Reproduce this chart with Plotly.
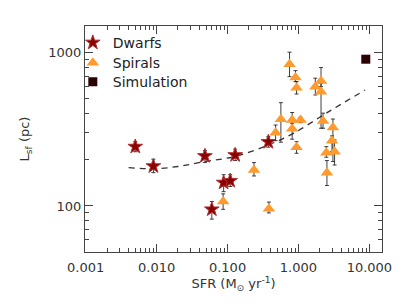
import plotly.graph_objects as go

# ---- data ----
sfr_dwarf = [0.005, 0.009, 0.048, 0.128, 0.376, 0.060, 0.088, 0.109]
L_dwarf = [244, 182, 212, 215, 262, 95, 142, 146]
L_dwarf_up = [19, 20, 18, 20, 22, 12, 18, 14]
L_dwarf_dn = [18, 17, 20, 17, 20, 13, 18, 12]

sfr_spiral = [0.748, 0.908, 0.94, 1.73, 2.08, 2.08, 2.22, 0.565, 0.476, 0.815, 0.815,
              1.07, 0.94, 3.06, 2.97, 2.47, 3.23, 2.52, 0.236, 0.0867, 0.383]
L_spiral = [844, 690, 593, 602, 656, 558, 359, 369, 301, 365, 319,
            365, 242, 325, 267, 223, 226, 165, 172, 107, 96]
L_spiral_up = [167, 76, 56, 82, 146, 76, 45, 104, 37, 43, 28,
               15, 21, 45, 20, 21, 44, 33, 20, 13, 10]
L_spiral_dn = [144, 41, 54, 71, 54, 236, 37, 108, 34, 51, 46,
               15, 21, 130, 40, 15, 41, 29, 15, 12, 6]

sfr_sim = [8.9]
L_sim = [910]

sfr_fit = [0.00403, 0.00887, 0.0199, 0.047, 0.124, 0.383, 0.859, 2.53, 8.7]
L_fit = [178, 175, 181, 195, 210, 251, 299, 407, 573]

x_tickvals = [0.001, 0.01, 0.1, 1, 10]
x_ticktext = ["0.001", "0.010", "0.100", "1.000", "10.000"]
y_tickvals = [100, 1000]
y_ticktext = ["100", "1000"]

FONT = "DejaVu Sans"
AXC = "#444444"

fig = go.Figure()

fig.add_trace(go.Scatter(
    x=sfr_fit, y=L_fit, mode="lines", line=dict(color="#333333", width=1.3, dash="6px,5px",
                                                  shape="spline"),
    showlegend=False, hoverinfo="skip"))

errc = "rgba(30,30,30,0.85)"

fig.add_trace(go.Scatter(
    x=sfr_dwarf, y=L_dwarf, mode="markers", name="Dwarfs", legend="legend",
    marker=dict(symbol="star", size=11, color="#8B0000", line=dict(color="#B03030", width=1)),
    error_y=dict(type="data", symmetric=False, array=L_dwarf_up, arrayminus=L_dwarf_dn,
                 color=errc, thickness=1, width=2)))

fig.add_trace(go.Scatter(
    x=sfr_spiral, y=L_spiral, mode="markers", name="Spirals", legend="legend2",
    marker=dict(symbol="triangle-up", size=11, color="#FF9A2E", line=dict(width=0)),
    error_y=dict(type="data", symmetric=False, array=L_spiral_up, arrayminus=L_spiral_dn,
                 color=errc, thickness=1, width=2)))

fig.add_trace(go.Scatter(
    x=sfr_sim, y=L_sim, mode="markers", name="Simulation", legend="legend3",
    marker=dict(symbol="square", size=9, color="#2B0000", line=dict(width=0))))

minor_x = [m * 10.0**e for e in range(-3, 2) for m in range(2, 10)]
minor_y = [m * 10.0**e for e in range(1, 4) for m in range(2, 10)]

fig.update_xaxes(
    type="log", range=[-3.01, 1.178], tickvals=x_tickvals, ticktext=x_ticktext,
    ticks="inside", ticklen=8, tickwidth=1, tickcolor=AXC,
    minor=dict(tickvals=minor_x, ticks="inside", ticklen=4, tickcolor=AXC, showgrid=False),
    showline=True, linecolor=AXC, linewidth=1, mirror="allticks",
    showgrid=False, zeroline=False, automargin=False, ticklabelstandoff=3,
    tickfont=dict(family=FONT, size=13, color="#333333"),
    title=dict(text="SFR (M<sub>⊙</sub> yr<sup>-1</sup>)", font=dict(family=FONT, size=13, color="#333333"),
               standoff=0))

fig.update_yaxes(
    type="log", range=[1.699, 3.176], tickvals=y_tickvals, ticktext=y_ticktext,
    ticks="inside", ticklen=8, tickwidth=1, tickcolor=AXC,
    minor=dict(tickvals=minor_y, ticks="inside", ticklen=4, tickcolor=AXC, showgrid=False),
    showline=True, linecolor=AXC, linewidth=1, mirror="allticks",
    showgrid=False, zeroline=False, automargin=False,
    tickfont=dict(family=FONT, size=13, color="#333333"),
    title=dict(text="L<sub>sf</sub> (pc)", font=dict(family=FONT, size=13, color="#333333"),
               standoff=15))

leg_common = dict(x=-0.041, xanchor="left", yanchor="middle", bgcolor="rgba(0,0,0,0)",
                  font=dict(family=FONT, size=14, color="#222222"), itemwidth=30)

fig.update_layout(
    width=399, height=298,
    margin=dict(l=77, r=25, t=18, b=54, pad=0),
    paper_bgcolor="white", plot_bgcolor="white",
    font=dict(family=FONT, color="#222222"),
    legend=dict(y=0.925, **leg_common),
    legend2=dict(y=0.836, **leg_common),
    legend3=dict(y=0.752, **leg_common),
)

fig.write_html("out.html")
